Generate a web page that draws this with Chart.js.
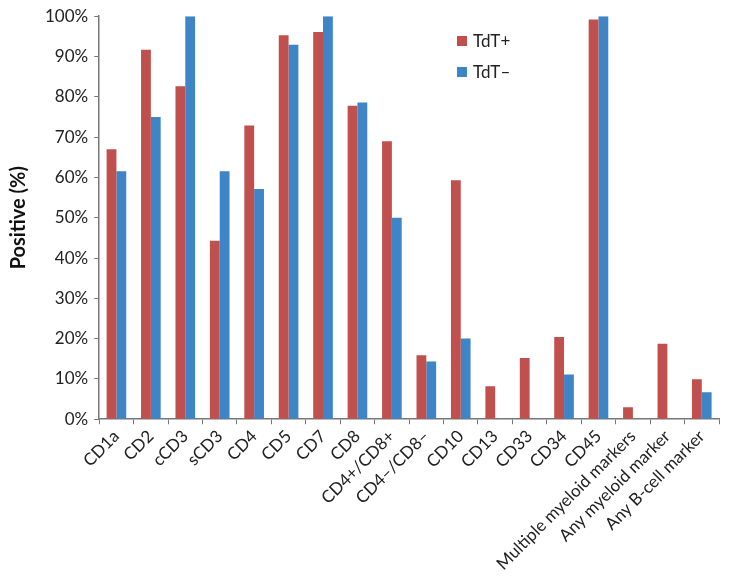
<!DOCTYPE html>
<html>
<head>
<meta charset="utf-8">
<script src="https://cdn.jsdelivr.net/npm/chart.js@4/dist/chart.umd.min.js"></script>
<style>
  html, body { margin: 0; padding: 0; background: #fff; }
  #wrap { width: 729px; height: 580px; }
</style>
</head>
<body>
<div id="wrap"><canvas id="chart"></canvas></div>
<script>
var categories = ["CD1a", "CD2", "cCD3", "sCD3", "CD4", "CD5", "CD7", "CD8",
    "CD4+/CD8+", "CD4\u2013/CD8\u2013", "CD10", "CD13", "CD33", "CD34", "CD45",
    "Multiple myeloid markers", "Any myeloid marker", "Any B-cell marker"];
var tdtPos = [67, 91.7, 82.6, 44.3, 72.9, 95.3, 96.1, 77.8, 69, 15.9, 59.3, 8.2, 15.2, 20.4, 99.2, 3.0, 18.7, 9.9];
var tdtNeg = [61.5, 75, 100, 61.5, 57.1, 92.9, 100, 78.6, 50, 14.3, 20, 0, 0, 11.1, 100, 0, 0, 6.7];
var seriesNames = ["TdT+", "TdT\u2013"];
var yTicks = [0, 10, 20, 30, 40, 50, 60, 70, 80, 90, 100];

var font = "Lato, 'Open Sans', sans-serif";

// legend drawn inside the plot, top right of centre
var insideLegend = {
    id: 'insideLegend',
    afterDraw: function (chart) {
        var ctx = chart.ctx;
        var x = 457, y = 41;
        ctx.save();
        ctx.font = "17px " + font;
        ctx.textBaseline = "middle";
        chart.data.datasets.forEach(function (ds, i) {
            var yy = y + i * 31;
            ctx.fillStyle = ds.backgroundColor;
            ctx.fillRect(x, yy - 5, 10, 10);
            ctx.fillStyle = "#222";
            ctx.fillText(ds.label, x + 16, yy + 1);
        });
        ctx.restore();
    }
};

new Chart(document.getElementById("chart"), {
    type: "bar",
    data: {
        labels: categories,
        datasets: [
            { label: seriesNames[0], data: tdtPos, backgroundColor: "#C0504D" },
            { label: seriesNames[1], data: tdtNeg, backgroundColor: "#3D85C6" }
        ]
    },
    options: {
        responsive: true,
        maintainAspectRatio: false,
        animation: false,
        layout: { padding: { top: 6, right: 10, left: 7, bottom: 4 } },
        datasets: { bar: { categoryPercentage: 0.57, barPercentage: 1.0 } },
        plugins: {
            legend: { display: false },
            tooltip: { enabled: false }
        },
        scales: {
            x: {
                grid: { display: true, offset: true, drawOnChartArea: false, drawTicks: true,
                        tickLength: 5, color: "#777" },
                border: { color: "#777", width: 1.5 },
                ticks: { color: "#222", font: { family: font, size: 17 },
                         minRotation: 45, maxRotation: 45, padding: 2, autoSkip: false }
            },
            y: {
                min: 0, max: 100,
                afterBuildTicks: function (axis) {
                    axis.ticks = yTicks.map(function (v) { return { value: v }; });
                },
                grid: { display: true, drawOnChartArea: false, drawTicks: true,
                        tickLength: 5, color: "#777" },
                border: { color: "#777", width: 1.5 },
                ticks: { color: "#222", font: { family: font, size: 17 }, padding: 6,
                         callback: function (v) { return v + "%"; } },
                title: { display: true, text: "Positive (%)", color: "#111",
                         font: { family: font, size: 20, weight: "bold" }, padding: { top: 0, bottom: 8 } }
            }
        }
    },
    plugins: [insideLegend]
});
</script>
</body>
</html>
